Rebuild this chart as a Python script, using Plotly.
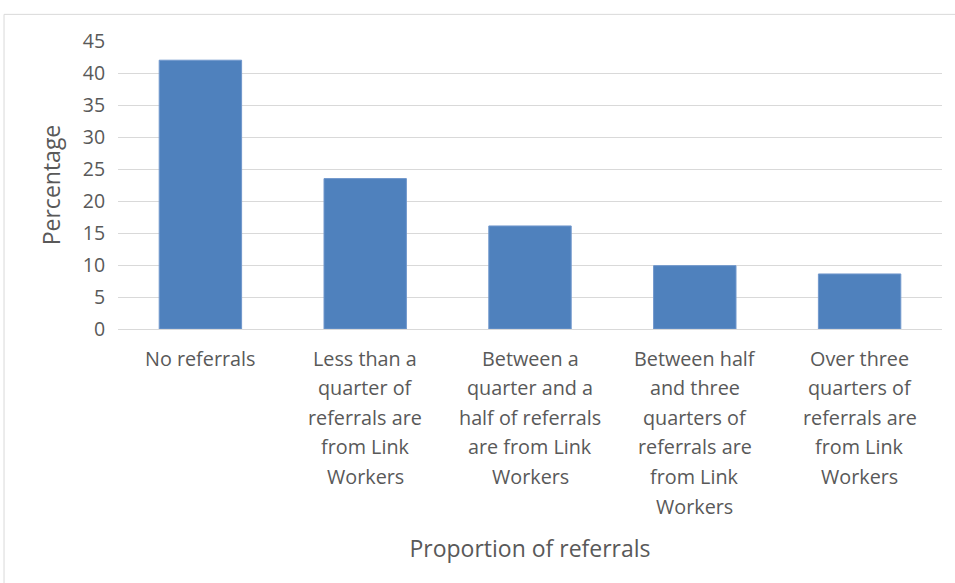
import plotly.graph_objects as go

# Share of practices by proportion of referrals coming from Link Workers
label_lines = [
    ["No referrals"],
    ["Less than a", "quarter of", "referrals are", "from Link", "Workers"],
    ["Between a", "quarter and a", "half of referrals", "are from Link", "Workers"],
    ["Between half", "and three", "quarters of", "referrals are", "from Link", "Workers"],
    ["Over three", "quarters of", "referrals are", "from Link", "Workers"],
]
categories = [" ".join(lines) for lines in label_lines]
percentages = [42, 23.5, 16.1, 9.9, 8.6]
y_ticks = [0, 5, 10, 15, 20, 25, 30, 35, 40, 45]

TEXT = "#595959"
GRID = "#D9D9D9"
FONT = "Open Sans"

fig = go.Figure(
    go.Bar(
        x=categories,
        y=percentages,
        marker=dict(color="#4F81BD", line=dict(color="#7097CC", width=1)),
        width=0.5,
        hoverinfo="x+y",
    )
)

# Category labels, one annotation per line so the line spacing can be set
annotations = []
for cat, lines in zip(categories, label_lines):
    for i, line in enumerate(lines):
        annotations.append(dict(
            x=cat, y=0, xref="x", yref="y",
            text=line, showarrow=False,
            xanchor="center", yanchor="middle",
            yshift=-(29 + i * 29.6),
            font=dict(family=FONT, size=19.8, color=TEXT),
        ))

fig.update_layout(
    width=955,
    height=583,
    margin=dict(l=118, r=13, t=41, b=254),
    paper_bgcolor="white",
    plot_bgcolor="white",
    showlegend=False,
    font=dict(family=FONT, color=TEXT),
    annotations=annotations,
    shapes=[dict(
        type="rect", xref="paper", yref="paper",
        x0=-0.1383, x1=1.03, y0=-0.92, y1=1.0925,
        line=dict(color=GRID, width=1), fillcolor="rgba(0,0,0,0)",
        layer="below",
    )],
)

fig.update_xaxes(
    showticklabels=False,
    ticks="",
    showgrid=False,
    showline=False,
    title=dict(text="Proportion of referrals",
               font=dict(family=FONT, size=23, color=TEXT),
               standoff=211),
    automargin=False,
)

fig.update_yaxes(
    range=[0, 45],
    tickvals=y_ticks,
    tickfont=dict(family=FONT, size=19.5, color=TEXT),
    showgrid=True,
    gridcolor=GRID,
    gridwidth=1,
    zeroline=True,
    zerolinecolor=GRID,
    zerolinewidth=1,
    ticks="outside",
    ticklen=8,
    tickcolor="rgba(0,0,0,0)",
    title=dict(text="Percentage",
               font=dict(family=FONT, size=23, color=TEXT),
               standoff=15),
    automargin=False,
)

fig.write_html("out.html")
